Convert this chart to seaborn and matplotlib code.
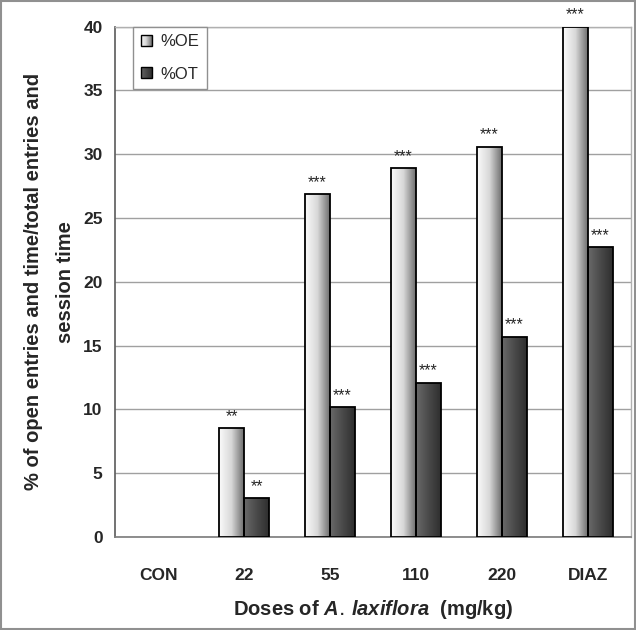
import numpy as np
import pandas as pd
import matplotlib
matplotlib.use("Agg")
import matplotlib.pyplot as plt
import seaborn as sns
from matplotlib.patches import Rectangle
from matplotlib.legend_handler import HandlerBase

# ── data ──────────────────────────────────────
doses = ["CON", "22", "55", "110", "220", "DIAZ"]
pct_oe = [0, 8.55, 26.9, 28.9, 30.6, 40.0]
pct_ot = [0, 3.05, 10.2, 12.1, 15.7, 22.7]
stars_oe = ["", "**", "***", "***", "***", "***"]
stars_ot = ["", "**", "***", "***", "***", "***"]
series = ["%OE", "%OT"]

df = pd.DataFrame({
    "dose": doses * 2,
    "series": [series[0]] * len(doses) + [series[1]] * len(doses),
    "value": pct_oe + pct_ot,
})

sns.set_theme(style="white")
plt.rcParams["font.family"] = ["Liberation Sans", "DejaVu Sans"]
plt.rcParams["mathtext.fontset"] = "custom"
plt.rcParams["mathtext.it"] = "Liberation Sans:italic:bold"

# gradient colour maps (light -> dark, left to right)
cmap_oe = matplotlib.colors.LinearSegmentedColormap.from_list("oe", ["#fbfbfb", "#d8d8d8", "#6e6e6e"])
cmap_ot = matplotlib.colors.LinearSegmentedColormap.from_list("ot", ["#6a6a6a", "#4a4a4a", "#2e2e2e"])
cmaps = [cmap_oe, cmap_ot]
grad = np.linspace(0, 1, 256).reshape(1, -1)

fig = plt.figure(figsize=(6.36, 6.30), dpi=100)
ax = fig.add_axes([0.181, 0.1476, 0.811, 0.81])

sns.barplot(data=df, x="dose", y="value", hue="series", order=doses,
            hue_order=series, width=0.58, gap=0, ax=ax,
            palette=["#dddddd", "#444444"], edgecolor="black", linewidth=1.3,
            legend=False, zorder=3)

# gradient fill inside each bar
for cont, cmap, stars in zip(ax.containers, cmaps, [stars_oe, stars_ot]):
    for bar, st in zip(cont, stars):
        h = bar.get_height()
        if h <= 0:
            bar.set_visible(False)
            continue
        x0, w = bar.get_x(), bar.get_width()
        bar.set_facecolor("none")
        img = ax.imshow(grad, extent=[x0, x0 + w, 0, h], aspect="auto",
                        cmap=cmap, zorder=2.9, interpolation="bilinear")
        img.set_clip_path(bar)
        ax.annotate(st, (x0 + w / 2, h), xytext=(0, 3), textcoords="offset points",
                    ha="center", va="bottom", fontsize=11.5)

ax.set_xlim(-0.5, len(doses) - 0.5)
ax.set_ylim(0, 40)
ax.set_yticks(np.arange(0, 41, 5))
ax.yaxis.grid(True, color="#a0a0a0", linewidth=1, zorder=0)
ax.set_axisbelow(True)

ax.set_xticks(range(len(doses)))
ax.set_xticklabels(doses, fontsize=12.5, fontweight="bold")
ax.set_xticks(np.arange(-0.5, len(doses), 1), minor=True)
ax.tick_params(axis="x", which="major", length=0, pad=22)
ax.tick_params(axis="x", which="minor", length=5, color="#808080", width=1)
ax.tick_params(axis="y", length=5, color="#606060", width=1, labelsize=12.5, pad=4)
for t in ax.get_yticklabels():
    t.set_fontweight("bold")

for side in ["top", "right"]:
    ax.spines[side].set_color("#b0b0b0")
    ax.spines[side].set_linewidth(1)
ax.spines["left"].set_color("#606060")
ax.spines["bottom"].set_color("#808080")

ax.set_xlabel(r"Doses of $A.\,laxiflora$  (mg/kg)", fontsize=14.5,
              fontweight="bold", labelpad=11)
ax.set_ylabel("% of open entries and time/total entries and\nsession time",
              fontsize=14.5, fontweight="bold", labelpad=6, linespacing=1.85)


# legend with small gradient swatches
class GradHandler(HandlerBase):
    def __init__(self, cmap):
        super().__init__()
        self.cmap = cmap

    def create_artists(self, legend, orig, xd, yd, width, height, fontsize, trans):
        s = width
        y0 = yd + (height - s) / 2
        arts = []
        n = 12
        for i in range(n):
            arts.append(Rectangle((xd + i * s / n, y0), s / n, s, transform=trans,
                                  facecolor=self.cmap((i + 0.5) / n), edgecolor="none"))
        arts.append(Rectangle((xd, y0), s, s, transform=trans, facecolor="none",
                              edgecolor="black", linewidth=1))
        return arts


h1 = Rectangle((0, 0), 1, 1)
h2 = Rectangle((0, 0), 1, 1)
leg = ax.legend([h1, h2], series, loc="upper left", bbox_to_anchor=(0.035, 1.0),
                borderaxespad=0, fontsize=12, frameon=True, fancybox=False,
                edgecolor="#909090", framealpha=1, labelspacing=1.05,
                handlelength=0.65, handletextpad=0.55, borderpad=0.45,
                handler_map={h1: GradHandler(cmap_oe), h2: GradHandler(cmap_ot)})
leg.get_frame().set_linewidth(1)

# grey frame around the figure
fig.patches.append(Rectangle((0.002, 0.002), 0.996, 0.996, transform=fig.transFigure,
                             fill=False, edgecolor="#909090", linewidth=1.5))

fig.savefig("out.png", dpi=100)
